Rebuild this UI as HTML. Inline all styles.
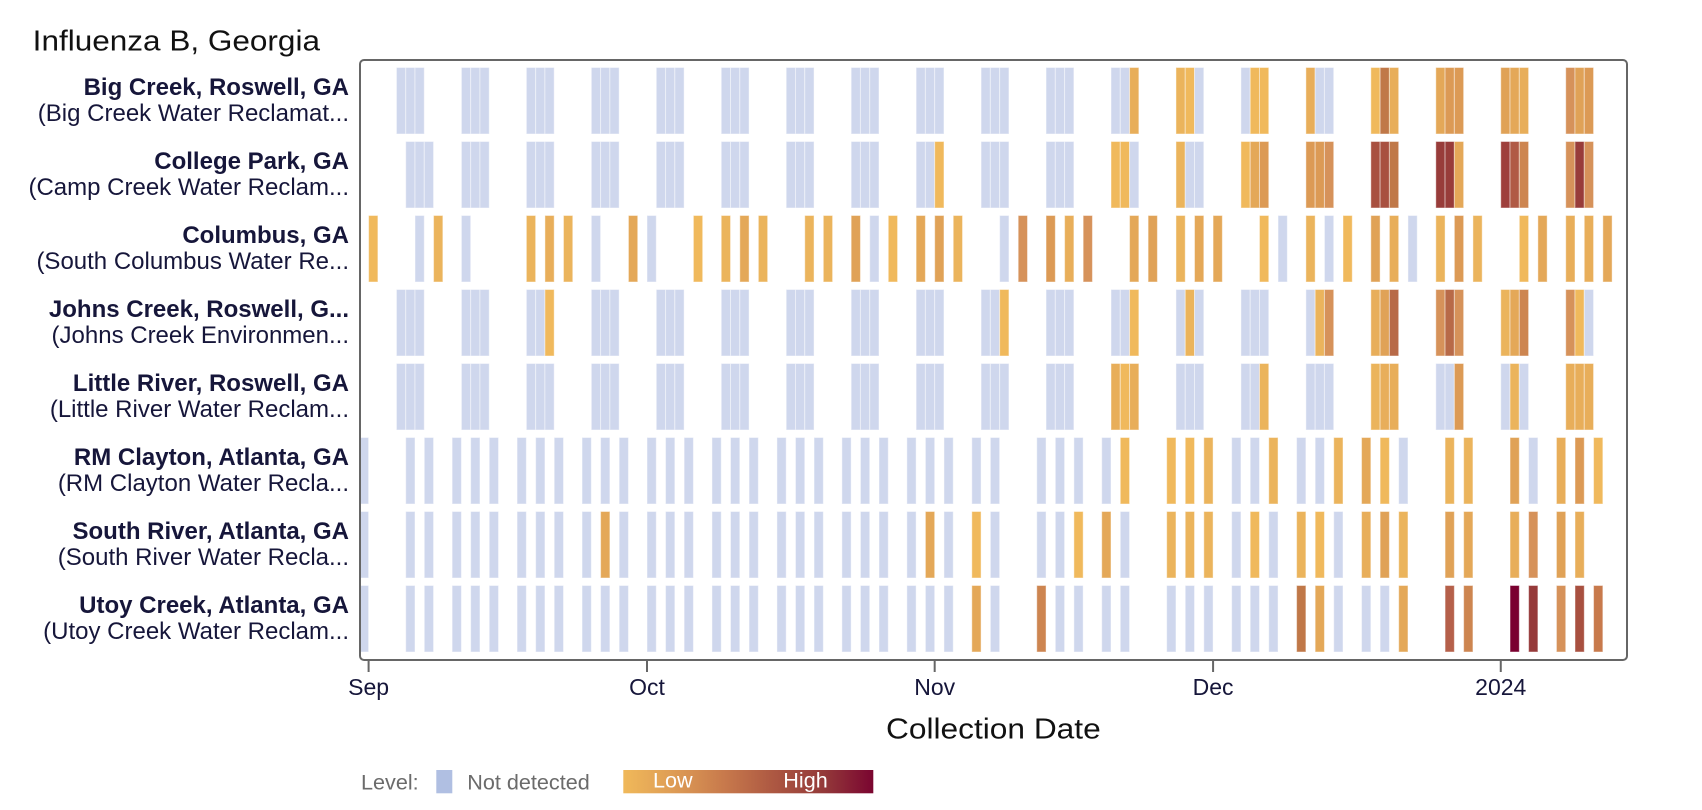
<!DOCTYPE html>
<html>
<head>
<meta charset="utf-8">
<style>
html,body{margin:0;padding:0;background:#fff;}
svg{display:block;}
.t{font-family:"Liberation Sans",Arial,sans-serif;}
.bars rect{stroke:rgba(255,255,255,0.45);stroke-width:1;}
.b{fill:#cfd7ed}
.y1{fill:#f0b95c}
.y2{fill:#ebb45c}
.y3{fill:#e8ae5a}
.y4{fill:#e4a858}
.y5{fill:#e0a257}
.o1{fill:#dc9a55}
.o2{fill:#d6925a}
.o3{fill:#cd8550}
.br1{fill:#c07848}
.br2{fill:#b86a48}
.br3{fill:#b5604a}
.br4{fill:#b05a45}
.r1{fill:#a85040}
.r2{fill:#9e3f3c}
.r3{fill:#983c3a}
.r4{fill:#963a3a}
.c{fill:#7a0030}
.u1{fill:#c87a4c}
</style>
</head>
<body>
<svg width="1702" height="810" viewBox="0 0 1702 810" xmlns="http://www.w3.org/2000/svg">
<defs>
<clipPath id="plot"><rect x="360" y="60" width="1267" height="600"/></clipPath>
<linearGradient id="grad" x1="0" x2="1" y1="0" y2="0">
<stop offset="0" stop-color="#f0b95a"/>
<stop offset="0.2" stop-color="#de9c55"/>
<stop offset="0.4" stop-color="#c87a4c"/>
<stop offset="0.6" stop-color="#ad5842"/>
<stop offset="0.8" stop-color="#943a3a"/>
<stop offset="1" stop-color="#7a0530"/>
</linearGradient>
</defs>

<text class="t" x="32.7" y="50.7" font-size="29" fill="#111" textLength="287.3" lengthAdjust="spacingAndGlyphs">Influenza B, Georgia</text>

<!-- Row labels -->
<g class="t" text-anchor="end" fill="#16163a">
<text x="349" y="95" font-size="24" font-weight="bold">Big Creek, Roswell, GA</text>
<text x="349" y="121" font-size="24">(Big Creek Water Reclamat...</text>
<text x="349" y="169" font-size="24" font-weight="bold">College Park, GA</text>
<text x="349" y="195" font-size="24">(Camp Creek Water Reclam...</text>
<text x="349" y="243" font-size="24" font-weight="bold">Columbus, GA</text>
<text x="349" y="269" font-size="24">(South Columbus Water Re...</text>
<text x="349" y="317" font-size="24" font-weight="bold">Johns Creek, Roswell, G...</text>
<text x="349" y="343" font-size="24">(Johns Creek Environmen...</text>
<text x="349" y="391" font-size="24" font-weight="bold">Little River, Roswell, GA</text>
<text x="349" y="417" font-size="24">(Little River Water Reclam...</text>
<text x="349" y="465" font-size="24" font-weight="bold">RM Clayton, Atlanta, GA</text>
<text x="349" y="491" font-size="24">(RM Clayton Water Recla...</text>
<text x="349" y="539" font-size="24" font-weight="bold">South River, Atlanta, GA</text>
<text x="349" y="565" font-size="24">(South River Water Recla...</text>
<text x="349" y="613" font-size="24" font-weight="bold">Utoy Creek, Atlanta, GA</text>
<text x="349" y="639" font-size="24">(Utoy Creek Water Reclam...</text>
</g>

<g class="bars" clip-path="url(#plot)">
<!-- Row 1 Big Creek -->
<g transform="translate(0,67.5)">
<rect x="396.44" width="9.28" height="66.5" class="b"/><rect x="405.72" width="9.28" height="66.5" class="b"/><rect x="415.00" width="9.28" height="66.5" class="b"/>
<rect x="461.40" width="9.28" height="66.5" class="b"/><rect x="470.68" width="9.28" height="66.5" class="b"/><rect x="479.96" width="9.28" height="66.5" class="b"/>
<rect x="526.36" width="9.28" height="66.5" class="b"/><rect x="535.64" width="9.28" height="66.5" class="b"/><rect x="544.92" width="9.28" height="66.5" class="b"/>
<rect x="591.32" width="9.28" height="66.5" class="b"/><rect x="600.60" width="9.28" height="66.5" class="b"/><rect x="609.88" width="9.28" height="66.5" class="b"/>
<rect x="656.28" width="9.28" height="66.5" class="b"/><rect x="665.56" width="9.28" height="66.5" class="b"/><rect x="674.84" width="9.28" height="66.5" class="b"/>
<rect x="721.24" width="9.28" height="66.5" class="b"/><rect x="730.52" width="9.28" height="66.5" class="b"/><rect x="739.80" width="9.28" height="66.5" class="b"/>
<rect x="786.20" width="9.28" height="66.5" class="b"/><rect x="795.48" width="9.28" height="66.5" class="b"/><rect x="804.76" width="9.28" height="66.5" class="b"/>
<rect x="851.16" width="9.28" height="66.5" class="b"/><rect x="860.44" width="9.28" height="66.5" class="b"/><rect x="869.72" width="9.28" height="66.5" class="b"/>
<rect x="916.12" width="9.28" height="66.5" class="b"/><rect x="925.40" width="9.28" height="66.5" class="b"/><rect x="934.68" width="9.28" height="66.5" class="b"/>
<rect x="981.08" width="9.28" height="66.5" class="b"/><rect x="990.36" width="9.28" height="66.5" class="b"/><rect x="999.64" width="9.28" height="66.5" class="b"/>
<rect x="1046.04" width="9.28" height="66.5" class="b"/><rect x="1055.32" width="9.28" height="66.5" class="b"/><rect x="1064.60" width="9.28" height="66.5" class="b"/>
<rect x="1111.00" width="9.28" height="66.5" class="b"/><rect x="1120.28" width="9.28" height="66.5" class="b"/><rect x="1129.56" width="9.28" height="66.5" class="y3"/>
<rect x="1175.96" width="9.28" height="66.5" class="y2"/><rect x="1185.24" width="9.28" height="66.5" class="y1"/><rect x="1194.52" width="9.28" height="66.5" class="b"/>
<rect x="1240.92" width="9.28" height="66.5" class="b"/><rect x="1250.20" width="9.28" height="66.5" class="y1"/><rect x="1259.48" width="9.28" height="66.5" class="y1"/>
<rect x="1305.88" width="9.28" height="66.5" class="y3"/><rect x="1315.16" width="9.28" height="66.5" class="b"/><rect x="1324.44" width="9.28" height="66.5" class="b"/>
<rect x="1370.84" width="9.28" height="66.5" class="y1"/><rect x="1380.12" width="9.28" height="66.5" class="br1"/><rect x="1389.40" width="9.28" height="66.5" class="y3"/>
<rect x="1435.80" width="9.28" height="66.5" class="y4"/><rect x="1445.08" width="9.28" height="66.5" class="o1"/><rect x="1454.36" width="9.28" height="66.5" class="o1"/>
<rect x="1500.76" width="9.28" height="66.5" class="y5"/><rect x="1510.04" width="9.28" height="66.5" class="y4"/><rect x="1519.32" width="9.28" height="66.5" class="y3"/>
<rect x="1565.72" width="9.28" height="66.5" class="o2"/><rect x="1575.00" width="9.28" height="66.5" class="y5"/><rect x="1584.28" width="9.28" height="66.5" class="o1"/>
</g>

<!-- Row 2 College Park -->
<g transform="translate(0,141.5)">
<rect x="405.72" width="9.28" height="66.5" class="b"/><rect x="415.00" width="9.28" height="66.5" class="b"/><rect x="424.28" width="9.28" height="66.5" class="b"/>
<rect x="461.40" width="9.28" height="66.5" class="b"/><rect x="470.68" width="9.28" height="66.5" class="b"/><rect x="479.96" width="9.28" height="66.5" class="b"/>
<rect x="526.36" width="9.28" height="66.5" class="b"/><rect x="535.64" width="9.28" height="66.5" class="b"/><rect x="544.92" width="9.28" height="66.5" class="b"/>
<rect x="591.32" width="9.28" height="66.5" class="b"/><rect x="600.60" width="9.28" height="66.5" class="b"/><rect x="609.88" width="9.28" height="66.5" class="b"/>
<rect x="656.28" width="9.28" height="66.5" class="b"/><rect x="665.56" width="9.28" height="66.5" class="b"/><rect x="674.84" width="9.28" height="66.5" class="b"/>
<rect x="721.24" width="9.28" height="66.5" class="b"/><rect x="730.52" width="9.28" height="66.5" class="b"/><rect x="739.80" width="9.28" height="66.5" class="b"/>
<rect x="786.20" width="9.28" height="66.5" class="b"/><rect x="795.48" width="9.28" height="66.5" class="b"/><rect x="804.76" width="9.28" height="66.5" class="b"/>
<rect x="851.16" width="9.28" height="66.5" class="b"/><rect x="860.44" width="9.28" height="66.5" class="b"/><rect x="869.72" width="9.28" height="66.5" class="b"/>
<rect x="916.12" width="9.28" height="66.5" class="b"/><rect x="925.40" width="9.28" height="66.5" class="b"/><rect x="934.68" width="9.28" height="66.5" class="y1"/>
<rect x="981.08" width="9.28" height="66.5" class="b"/><rect x="990.36" width="9.28" height="66.5" class="b"/><rect x="999.64" width="9.28" height="66.5" class="b"/>
<rect x="1046.04" width="9.28" height="66.5" class="b"/><rect x="1055.32" width="9.28" height="66.5" class="b"/><rect x="1064.60" width="9.28" height="66.5" class="b"/>
<rect x="1111.00" width="9.28" height="66.5" class="y1"/><rect x="1120.28" width="9.28" height="66.5" class="y1"/><rect x="1129.56" width="9.28" height="66.5" class="b"/>
<rect x="1175.96" width="9.28" height="66.5" class="y2"/><rect x="1185.24" width="9.28" height="66.5" class="b"/><rect x="1194.52" width="9.28" height="66.5" class="b"/>
<rect x="1240.92" width="9.28" height="66.5" class="y1"/><rect x="1250.20" width="9.28" height="66.5" class="y4"/><rect x="1259.48" width="9.28" height="66.5" class="o1"/>
<rect x="1305.88" width="9.28" height="66.5" class="o1"/><rect x="1315.16" width="9.28" height="66.5" class="o1"/><rect x="1324.44" width="9.28" height="66.5" class="o2"/>
<rect x="1370.84" width="9.28" height="66.5" class="r1"/><rect x="1380.12" width="9.28" height="66.5" class="r1"/><rect x="1389.40" width="9.28" height="66.5" class="br1"/>
<rect x="1435.80" width="9.28" height="66.5" class="r3"/><rect x="1445.08" width="9.28" height="66.5" class="r3"/><rect x="1454.36" width="9.28" height="66.5" class="y4"/>
<rect x="1500.76" width="9.28" height="66.5" class="r2"/><rect x="1510.04" width="9.28" height="66.5" class="br4"/><rect x="1519.32" width="9.28" height="66.5" class="o3"/>
<rect x="1565.72" width="9.28" height="66.5" class="o2"/><rect x="1575.00" width="9.28" height="66.5" class="r3"/><rect x="1584.28" width="9.28" height="66.5" class="o2"/>
</g>

<!-- Row 3 Columbus -->
<g transform="translate(0,215.5)">
<rect x="368.60" width="9.28" height="66.5" class="y1"/>
<rect x="415.00" width="9.28" height="66.5" class="b"/>
<rect x="433.56" width="9.28" height="66.5" class="y2"/>
<rect x="461.40" width="9.28" height="66.5" class="b"/>
<rect x="526.36" width="9.28" height="66.5" class="y2"/>
<rect x="544.92" width="9.28" height="66.5" class="y3"/>
<rect x="563.48" width="9.28" height="66.5" class="y2"/>
<rect x="591.32" width="9.28" height="66.5" class="b"/>
<rect x="628.44" width="9.28" height="66.5" class="y4"/>
<rect x="647.00" width="9.28" height="66.5" class="b"/>
<rect x="693.40" width="9.28" height="66.5" class="y1"/>
<rect x="721.24" width="9.28" height="66.5" class="y2"/>
<rect x="739.80" width="9.28" height="66.5" class="y4"/>
<rect x="758.36" width="9.28" height="66.5" class="y2"/>
<rect x="804.76" width="9.28" height="66.5" class="y2"/>
<rect x="823.32" width="9.28" height="66.5" class="y2"/>
<rect x="851.16" width="9.28" height="66.5" class="y5"/>
<rect x="869.72" width="9.28" height="66.5" class="b"/>
<rect x="888.28" width="9.28" height="66.5" class="y1"/>
<rect x="916.12" width="9.28" height="66.5" class="y4"/>
<rect x="934.68" width="9.28" height="66.5" class="y5"/>
<rect x="953.24" width="9.28" height="66.5" class="y2"/>
<rect x="999.64" width="9.28" height="66.5" class="b"/>
<rect x="1018.20" width="9.28" height="66.5" class="o2"/>
<rect x="1046.04" width="9.28" height="66.5" class="o1"/>
<rect x="1064.60" width="9.28" height="66.5" class="y3"/>
<rect x="1083.16" width="9.28" height="66.5" class="o2"/>
<rect x="1129.56" width="9.28" height="66.5" class="y4"/>
<rect x="1148.12" width="9.28" height="66.5" class="y5"/>
<rect x="1175.96" width="9.28" height="66.5" class="y2"/>
<rect x="1194.52" width="9.28" height="66.5" class="y4"/>
<rect x="1213.08" width="9.28" height="66.5" class="y4"/>
<rect x="1259.48" width="9.28" height="66.5" class="y1"/>
<rect x="1278.04" width="9.28" height="66.5" class="b"/>
<rect x="1305.88" width="9.28" height="66.5" class="y2"/>
<rect x="1324.44" width="9.28" height="66.5" class="b"/>
<rect x="1343.00" width="9.28" height="66.5" class="y1"/>
<rect x="1370.84" width="9.28" height="66.5" class="y5"/>
<rect x="1389.40" width="9.28" height="66.5" class="y3"/>
<rect x="1407.96" width="9.28" height="66.5" class="b"/>
<rect x="1435.80" width="9.28" height="66.5" class="y2"/>
<rect x="1454.36" width="9.28" height="66.5" class="o1"/>
<rect x="1472.92" width="9.28" height="66.5" class="y2"/>
<rect x="1519.32" width="9.28" height="66.5" class="y1"/>
<rect x="1537.88" width="9.28" height="66.5" class="y4"/>
<rect x="1565.72" width="9.28" height="66.5" class="y3"/>
<rect x="1584.28" width="9.28" height="66.5" class="y3"/>
<rect x="1602.84" width="9.28" height="66.5" class="y4"/>
</g>

<!-- Row 4 Johns Creek -->
<g transform="translate(0,289.5)">
<rect x="396.44" width="9.28" height="66.5" class="b"/><rect x="405.72" width="9.28" height="66.5" class="b"/><rect x="415.00" width="9.28" height="66.5" class="b"/>
<rect x="461.40" width="9.28" height="66.5" class="b"/><rect x="470.68" width="9.28" height="66.5" class="b"/><rect x="479.96" width="9.28" height="66.5" class="b"/>
<rect x="526.36" width="9.28" height="66.5" class="b"/><rect x="535.64" width="9.28" height="66.5" class="b"/><rect x="544.92" width="9.28" height="66.5" class="y1"/>
<rect x="591.32" width="9.28" height="66.5" class="b"/><rect x="600.60" width="9.28" height="66.5" class="b"/><rect x="609.88" width="9.28" height="66.5" class="b"/>
<rect x="656.28" width="9.28" height="66.5" class="b"/><rect x="665.56" width="9.28" height="66.5" class="b"/><rect x="674.84" width="9.28" height="66.5" class="b"/>
<rect x="721.24" width="9.28" height="66.5" class="b"/><rect x="730.52" width="9.28" height="66.5" class="b"/><rect x="739.80" width="9.28" height="66.5" class="b"/>
<rect x="786.20" width="9.28" height="66.5" class="b"/><rect x="795.48" width="9.28" height="66.5" class="b"/><rect x="804.76" width="9.28" height="66.5" class="b"/>
<rect x="851.16" width="9.28" height="66.5" class="b"/><rect x="860.44" width="9.28" height="66.5" class="b"/><rect x="869.72" width="9.28" height="66.5" class="b"/>
<rect x="916.12" width="9.28" height="66.5" class="b"/><rect x="925.40" width="9.28" height="66.5" class="b"/><rect x="934.68" width="9.28" height="66.5" class="b"/>
<rect x="981.08" width="9.28" height="66.5" class="b"/><rect x="990.36" width="9.28" height="66.5" class="b"/><rect x="999.64" width="9.28" height="66.5" class="y1"/>
<rect x="1046.04" width="9.28" height="66.5" class="b"/><rect x="1055.32" width="9.28" height="66.5" class="b"/><rect x="1064.60" width="9.28" height="66.5" class="b"/>
<rect x="1111.00" width="9.28" height="66.5" class="b"/><rect x="1120.28" width="9.28" height="66.5" class="b"/><rect x="1129.56" width="9.28" height="66.5" class="y1"/>
<rect x="1175.96" width="9.28" height="66.5" class="b"/><rect x="1185.24" width="9.28" height="66.5" class="y2"/><rect x="1194.52" width="9.28" height="66.5" class="b"/>
<rect x="1240.92" width="9.28" height="66.5" class="b"/><rect x="1250.20" width="9.28" height="66.5" class="b"/><rect x="1259.48" width="9.28" height="66.5" class="b"/>
<rect x="1305.88" width="9.28" height="66.5" class="b"/><rect x="1315.16" width="9.28" height="66.5" class="y2"/><rect x="1324.44" width="9.28" height="66.5" class="o2"/>
<rect x="1370.84" width="9.28" height="66.5" class="y3"/><rect x="1380.12" width="9.28" height="66.5" class="y5"/><rect x="1389.40" width="9.28" height="66.5" class="br2"/>
<rect x="1435.80" width="9.28" height="66.5" class="o2"/><rect x="1445.08" width="9.28" height="66.5" class="br2"/><rect x="1454.36" width="9.28" height="66.5" class="o2"/>
<rect x="1500.76" width="9.28" height="66.5" class="y2"/><rect x="1510.04" width="9.28" height="66.5" class="y4"/><rect x="1519.32" width="9.28" height="66.5" class="o3"/>
<rect x="1565.72" width="9.28" height="66.5" class="o2"/><rect x="1575.00" width="9.28" height="66.5" class="y1"/><rect x="1584.28" width="9.28" height="66.5" class="b"/>
</g>

<!-- Row 5 Little River -->
<g transform="translate(0,363.5)">
<rect x="396.44" width="9.28" height="66.5" class="b"/><rect x="405.72" width="9.28" height="66.5" class="b"/><rect x="415.00" width="9.28" height="66.5" class="b"/>
<rect x="461.40" width="9.28" height="66.5" class="b"/><rect x="470.68" width="9.28" height="66.5" class="b"/><rect x="479.96" width="9.28" height="66.5" class="b"/>
<rect x="526.36" width="9.28" height="66.5" class="b"/><rect x="535.64" width="9.28" height="66.5" class="b"/><rect x="544.92" width="9.28" height="66.5" class="b"/>
<rect x="591.32" width="9.28" height="66.5" class="b"/><rect x="600.60" width="9.28" height="66.5" class="b"/><rect x="609.88" width="9.28" height="66.5" class="b"/>
<rect x="656.28" width="9.28" height="66.5" class="b"/><rect x="665.56" width="9.28" height="66.5" class="b"/><rect x="674.84" width="9.28" height="66.5" class="b"/>
<rect x="721.24" width="9.28" height="66.5" class="b"/><rect x="730.52" width="9.28" height="66.5" class="b"/><rect x="739.80" width="9.28" height="66.5" class="b"/>
<rect x="786.20" width="9.28" height="66.5" class="b"/><rect x="795.48" width="9.28" height="66.5" class="b"/><rect x="804.76" width="9.28" height="66.5" class="b"/>
<rect x="851.16" width="9.28" height="66.5" class="b"/><rect x="860.44" width="9.28" height="66.5" class="b"/><rect x="869.72" width="9.28" height="66.5" class="b"/>
<rect x="916.12" width="9.28" height="66.5" class="b"/><rect x="925.40" width="9.28" height="66.5" class="b"/><rect x="934.68" width="9.28" height="66.5" class="b"/>
<rect x="981.08" width="9.28" height="66.5" class="b"/><rect x="990.36" width="9.28" height="66.5" class="b"/><rect x="999.64" width="9.28" height="66.5" class="b"/>
<rect x="1046.04" width="9.28" height="66.5" class="b"/><rect x="1055.32" width="9.28" height="66.5" class="b"/><rect x="1064.60" width="9.28" height="66.5" class="b"/>
<rect x="1111.00" width="9.28" height="66.5" class="y3"/><rect x="1120.28" width="9.28" height="66.5" class="y1"/><rect x="1129.56" width="9.28" height="66.5" class="y3"/>
<rect x="1175.96" width="9.28" height="66.5" class="b"/><rect x="1185.24" width="9.28" height="66.5" class="b"/><rect x="1194.52" width="9.28" height="66.5" class="b"/>
<rect x="1240.92" width="9.28" height="66.5" class="b"/><rect x="1250.20" width="9.28" height="66.5" class="b"/><rect x="1259.48" width="9.28" height="66.5" class="y2"/>
<rect x="1305.88" width="9.28" height="66.5" class="b"/><rect x="1315.16" width="9.28" height="66.5" class="b"/><rect x="1324.44" width="9.28" height="66.5" class="b"/>
<rect x="1370.84" width="9.28" height="66.5" class="y2"/><rect x="1380.12" width="9.28" height="66.5" class="y3"/><rect x="1389.40" width="9.28" height="66.5" class="y3"/>
<rect x="1435.80" width="9.28" height="66.5" class="b"/><rect x="1445.08" width="9.28" height="66.5" class="b"/><rect x="1454.36" width="9.28" height="66.5" class="o1"/>
<rect x="1500.76" width="9.28" height="66.5" class="b"/><rect x="1510.04" width="9.28" height="66.5" class="y2"/><rect x="1519.32" width="9.28" height="66.5" class="b"/>
<rect x="1565.72" width="9.28" height="66.5" class="y3"/><rect x="1575.00" width="9.28" height="66.5" class="y3"/><rect x="1584.28" width="9.28" height="66.5" class="y3"/>
</g>

<!-- Row 6 RM Clayton -->
<g transform="translate(0,437.5)">
<rect x="359.32" width="9.28" height="66.5" class="b"/>
<rect x="405.72" width="9.28" height="66.5" class="b"/>
<rect x="424.28" width="9.28" height="66.5" class="b"/>
<rect x="452.12" width="9.28" height="66.5" class="b"/>
<rect x="470.68" width="9.28" height="66.5" class="b"/>
<rect x="489.24" width="9.28" height="66.5" class="b"/>
<rect x="517.08" width="9.28" height="66.5" class="b"/>
<rect x="535.64" width="9.28" height="66.5" class="b"/>
<rect x="554.20" width="9.28" height="66.5" class="b"/>
<rect x="582.04" width="9.28" height="66.5" class="b"/>
<rect x="600.60" width="9.28" height="66.5" class="b"/>
<rect x="619.16" width="9.28" height="66.5" class="b"/>
<rect x="647.00" width="9.28" height="66.5" class="b"/>
<rect x="665.56" width="9.28" height="66.5" class="b"/>
<rect x="684.12" width="9.28" height="66.5" class="b"/>
<rect x="711.96" width="9.28" height="66.5" class="b"/>
<rect x="730.52" width="9.28" height="66.5" class="b"/>
<rect x="749.08" width="9.28" height="66.5" class="b"/>
<rect x="776.92" width="9.28" height="66.5" class="b"/>
<rect x="795.48" width="9.28" height="66.5" class="b"/>
<rect x="814.04" width="9.28" height="66.5" class="b"/>
<rect x="841.88" width="9.28" height="66.5" class="b"/>
<rect x="860.44" width="9.28" height="66.5" class="b"/>
<rect x="879.00" width="9.28" height="66.5" class="b"/>
<rect x="906.84" width="9.28" height="66.5" class="b"/>
<rect x="925.40" width="9.28" height="66.5" class="b"/>
<rect x="943.96" width="9.28" height="66.5" class="b"/>
<rect x="971.80" width="9.28" height="66.5" class="b"/>
<rect x="990.36" width="9.28" height="66.5" class="b"/>
<rect x="1036.76" width="9.28" height="66.5" class="b"/>
<rect x="1055.32" width="9.28" height="66.5" class="b"/>
<rect x="1073.88" width="9.28" height="66.5" class="b"/>
<rect x="1101.72" width="9.28" height="66.5" class="b"/>
<rect x="1120.28" width="9.28" height="66.5" class="y1"/>
<rect x="1166.68" width="9.28" height="66.5" class="y1"/>
<rect x="1185.24" width="9.28" height="66.5" class="y1"/>
<rect x="1203.80" width="9.28" height="66.5" class="y2"/>
<rect x="1231.64" width="9.28" height="66.5" class="b"/>
<rect x="1250.20" width="9.28" height="66.5" class="b"/>
<rect x="1268.76" width="9.28" height="66.5" class="y2"/>
<rect x="1296.60" width="9.28" height="66.5" class="b"/>
<rect x="1315.16" width="9.28" height="66.5" class="b"/>
<rect x="1333.72" width="9.28" height="66.5" class="y2"/>
<rect x="1361.56" width="9.28" height="66.5" class="y4"/>
<rect x="1380.12" width="9.28" height="66.5" class="y1"/>
<rect x="1398.68" width="9.28" height="66.5" class="b"/>
<rect x="1445.08" width="9.28" height="66.5" class="y2"/>
<rect x="1463.64" width="9.28" height="66.5" class="y2"/>
<rect x="1510.04" width="9.28" height="66.5" class="y5"/>
<rect x="1528.60" width="9.28" height="66.5" class="b"/>
<rect x="1556.44" width="9.28" height="66.5" class="y3"/>
<rect x="1575.00" width="9.28" height="66.5" class="o1"/>
<rect x="1593.56" width="9.28" height="66.5" class="y1"/>
</g>

<!-- Row 7 South River -->
<g transform="translate(0,511.5)">
<rect x="359.32" width="9.28" height="66.5" class="b"/>
<rect x="405.72" width="9.28" height="66.5" class="b"/>
<rect x="424.28" width="9.28" height="66.5" class="b"/>
<rect x="452.12" width="9.28" height="66.5" class="b"/>
<rect x="470.68" width="9.28" height="66.5" class="b"/>
<rect x="489.24" width="9.28" height="66.5" class="b"/>
<rect x="517.08" width="9.28" height="66.5" class="b"/>
<rect x="535.64" width="9.28" height="66.5" class="b"/>
<rect x="554.20" width="9.28" height="66.5" class="b"/>
<rect x="582.04" width="9.28" height="66.5" class="b"/>
<rect x="600.60" width="9.28" height="66.5" class="y4"/>
<rect x="619.16" width="9.28" height="66.5" class="b"/>
<rect x="647.00" width="9.28" height="66.5" class="b"/>
<rect x="665.56" width="9.28" height="66.5" class="b"/>
<rect x="684.12" width="9.28" height="66.5" class="b"/>
<rect x="711.96" width="9.28" height="66.5" class="b"/>
<rect x="730.52" width="9.28" height="66.5" class="b"/>
<rect x="749.08" width="9.28" height="66.5" class="b"/>
<rect x="776.92" width="9.28" height="66.5" class="b"/>
<rect x="795.48" width="9.28" height="66.5" class="b"/>
<rect x="814.04" width="9.28" height="66.5" class="b"/>
<rect x="841.88" width="9.28" height="66.5" class="b"/>
<rect x="860.44" width="9.28" height="66.5" class="b"/>
<rect x="879.00" width="9.28" height="66.5" class="b"/>
<rect x="906.84" width="9.28" height="66.5" class="b"/>
<rect x="925.40" width="9.28" height="66.5" class="y4"/>
<rect x="943.96" width="9.28" height="66.5" class="b"/>
<rect x="971.80" width="9.28" height="66.5" class="y1"/>
<rect x="990.36" width="9.28" height="66.5" class="b"/>
<rect x="1036.76" width="9.28" height="66.5" class="b"/>
<rect x="1055.32" width="9.28" height="66.5" class="b"/>
<rect x="1073.88" width="9.28" height="66.5" class="y1"/>
<rect x="1101.72" width="9.28" height="66.5" class="y4"/>
<rect x="1120.28" width="9.28" height="66.5" class="b"/>
<rect x="1166.68" width="9.28" height="66.5" class="y2"/>
<rect x="1185.24" width="9.28" height="66.5" class="y2"/>
<rect x="1203.80" width="9.28" height="66.5" class="y2"/>
<rect x="1231.64" width="9.28" height="66.5" class="b"/>
<rect x="1250.20" width="9.28" height="66.5" class="y1"/>
<rect x="1268.76" width="9.28" height="66.5" class="b"/>
<rect x="1296.60" width="9.28" height="66.5" class="y2"/>
<rect x="1315.16" width="9.28" height="66.5" class="y1"/>
<rect x="1333.72" width="9.28" height="66.5" class="b"/>
<rect x="1361.56" width="9.28" height="66.5" class="y3"/>
<rect x="1380.12" width="9.28" height="66.5" class="y5"/>
<rect x="1398.68" width="9.28" height="66.5" class="y2"/>
<rect x="1445.08" width="9.28" height="66.5" class="y5"/>
<rect x="1463.64" width="9.28" height="66.5" class="y4"/>
<rect x="1510.04" width="9.28" height="66.5" class="y3"/>
<rect x="1528.60" width="9.28" height="66.5" class="o2"/>
<rect x="1556.44" width="9.28" height="66.5" class="y5"/>
<rect x="1575.00" width="9.28" height="66.5" class="y3"/>
</g>

<!-- Row 8 Utoy Creek -->
<g transform="translate(0,585.5)">
<rect x="359.32" width="9.28" height="66.5" class="b"/>
<rect x="405.72" width="9.28" height="66.5" class="b"/>
<rect x="424.28" width="9.28" height="66.5" class="b"/>
<rect x="452.12" width="9.28" height="66.5" class="b"/>
<rect x="470.68" width="9.28" height="66.5" class="b"/>
<rect x="489.24" width="9.28" height="66.5" class="b"/>
<rect x="517.08" width="9.28" height="66.5" class="b"/>
<rect x="535.64" width="9.28" height="66.5" class="b"/>
<rect x="554.20" width="9.28" height="66.5" class="b"/>
<rect x="582.04" width="9.28" height="66.5" class="b"/>
<rect x="600.60" width="9.28" height="66.5" class="b"/>
<rect x="619.16" width="9.28" height="66.5" class="b"/>
<rect x="647.00" width="9.28" height="66.5" class="b"/>
<rect x="665.56" width="9.28" height="66.5" class="b"/>
<rect x="684.12" width="9.28" height="66.5" class="b"/>
<rect x="711.96" width="9.28" height="66.5" class="b"/>
<rect x="730.52" width="9.28" height="66.5" class="b"/>
<rect x="749.08" width="9.28" height="66.5" class="b"/>
<rect x="776.92" width="9.28" height="66.5" class="b"/>
<rect x="795.48" width="9.28" height="66.5" class="b"/>
<rect x="814.04" width="9.28" height="66.5" class="b"/>
<rect x="841.88" width="9.28" height="66.5" class="b"/>
<rect x="860.44" width="9.28" height="66.5" class="b"/>
<rect x="879.00" width="9.28" height="66.5" class="b"/>
<rect x="906.84" width="9.28" height="66.5" class="b"/>
<rect x="925.40" width="9.28" height="66.5" class="b"/>
<rect x="943.96" width="9.28" height="66.5" class="b"/>
<rect x="971.80" width="9.28" height="66.5" class="y4"/>
<rect x="990.36" width="9.28" height="66.5" class="b"/>
<rect x="1036.76" width="9.28" height="66.5" class="o3"/>
<rect x="1055.32" width="9.28" height="66.5" class="b"/>
<rect x="1073.88" width="9.28" height="66.5" class="b"/>
<rect x="1101.72" width="9.28" height="66.5" class="b"/>
<rect x="1120.28" width="9.28" height="66.5" class="b"/>
<rect x="1166.68" width="9.28" height="66.5" class="b"/>
<rect x="1185.24" width="9.28" height="66.5" class="b"/>
<rect x="1203.80" width="9.28" height="66.5" class="b"/>
<rect x="1231.64" width="9.28" height="66.5" class="b"/>
<rect x="1250.20" width="9.28" height="66.5" class="b"/>
<rect x="1268.76" width="9.28" height="66.5" class="b"/>
<rect x="1296.60" width="9.28" height="66.5" class="br1"/>
<rect x="1315.16" width="9.28" height="66.5" class="y4"/>
<rect x="1333.72" width="9.28" height="66.5" class="b"/>
<rect x="1361.56" width="9.28" height="66.5" class="b"/>
<rect x="1380.12" width="9.28" height="66.5" class="b"/>
<rect x="1398.68" width="9.28" height="66.5" class="y4"/>
<rect x="1445.08" width="9.28" height="66.5" class="br3"/>
<rect x="1463.64" width="9.28" height="66.5" class="o3"/>
<rect x="1510.04" width="9.28" height="66.5" class="c"/>
<rect x="1528.60" width="9.28" height="66.5" class="r4"/>
<rect x="1556.44" width="9.28" height="66.5" class="o2"/>
<rect x="1575.00" width="9.28" height="66.5" class="r1"/>
<rect x="1593.56" width="9.28" height="66.5" class="u1"/>
</g>
</g>

<!-- Plot border -->
<rect x="360" y="60" width="1267" height="600" rx="4" ry="4" fill="none" stroke="#666" stroke-width="2"/>

<!-- Ticks -->
<g stroke="#666" stroke-width="2">
<line x1="368.6" y1="660" x2="368.6" y2="672"/>
<line x1="647.0" y1="660" x2="647.0" y2="672"/>
<line x1="934.68" y1="660" x2="934.68" y2="672"/>
<line x1="1213.08" y1="660" x2="1213.08" y2="672"/>
<line x1="1500.76" y1="660" x2="1500.76" y2="672"/>
</g>
<g class="t" font-size="23" fill="#16163a" text-anchor="middle">
<text x="368.6" y="695">Sep</text>
<text x="647.0" y="695">Oct</text>
<text x="934.68" y="695">Nov</text>
<text x="1213.08" y="695">Dec</text>
<text x="1500.76" y="695">2024</text>
</g>

<text class="t" x="886" y="738.3" font-size="29" fill="#111" textLength="214.7" lengthAdjust="spacingAndGlyphs">Collection Date</text>

<!-- Legend -->
<g class="t" font-size="21.6">
<text x="361" y="789.3" fill="#6b6b6b">Level:</text>
<rect x="436.3" y="770" width="16" height="23.3" fill="#b0bfe2"/>
<text x="467.3" y="789.3" fill="#6b6b6b">Not detected</text>
<rect x="623.3" y="770" width="250" height="23.3" fill="url(#grad)"/>
<text x="653" y="787.7" fill="#fff">Low</text>
<text x="783.3" y="787.7" fill="#fff">High</text>
</g>
</svg>
</body>
</html>
